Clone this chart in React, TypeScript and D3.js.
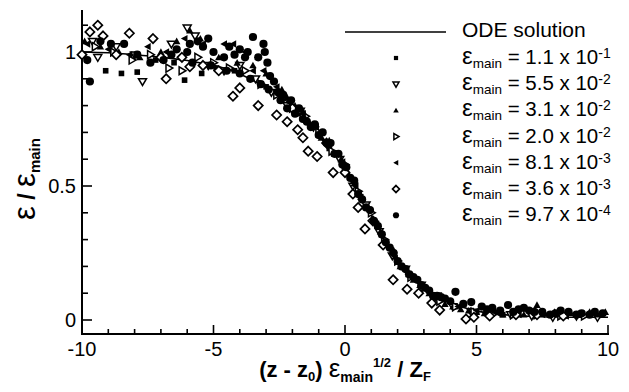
import React from "react";
import * as d3 from "d3";

// ODE solution curve
const odeX = [-10, -9, -8, -7, -6, -5, -4, -3, -2.5, -2, -1.5, -1, -0.5, 0, 0.5, 1, 1.5, 2, 2.5, 3, 3.5, 4, 5, 6, 7, 8, 9, 10];
const odeY = [1.0, 0.997, 0.99, 0.981, 0.968, 0.95, 0.918, 0.866, 0.835, 0.8, 0.755, 0.7, 0.635, 0.565, 0.478, 0.39, 0.305, 0.228, 0.168, 0.122, 0.088, 0.064, 0.034, 0.02, 0.014, 0.011, 0.01, 0.01];

// Series (x, y)
const seriesSquare: [number, number][] = [
  [-10, 0.99], [-9.1, 0.93], [-8.5, 0.92], [-7.9, 0.925], [-7.2, 0.97], [-6.5, 0.96], [-6.1, 0.895], [-5.45, 0.92],
  [-4.9, 0.94], [-4.2, 0.93], [-3.6, 0.9], [-3.0, 0.87], [-2.4, 0.82], [-1.8, 0.77], [-1.2, 0.72], [-0.6, 0.64],
  [0, 0.56], [0.6, 0.46], [1.2, 0.36], [1.8, 0.25], [2.4, 0.17], [3.0, 0.12], [3.6, 0.08], [4.2, 0.05],
  [4.8, 0.035], [5.4, 0.025], [6.0, 0.02], [6.6, 0.02], [7.2, 0.015], [7.8, 0.02], [8.4, 0.015], [9.0, 0.02], [9.6, 0.015],
];
const seriesTriDown: [number, number][] = [
  [-9.6, 1.04], [-9.4, 0.98], [-8.7, 1.02], [-8.0, 0.99], [-7.7, 0.89], [-6.6, 1.03], [-6.0, 1.09], [-5.7, 1.06],
  [-5.2, 0.95], [-4.6, 0.93], [-4.0, 0.95], [-3.4, 0.9], [-2.8, 0.85], [-2.2, 0.8], [-1.7, 0.78], [-1.2, 0.72],
  [-0.7, 0.66], [-0.2, 0.6], [0.3, 0.5], [0.8, 0.43], [1.3, 0.33], [1.8, 0.24], [2.3, 0.19], [2.9, 0.13],
  [3.5, 0.09], [4.1, 0.05], [4.8, 0.03], [5.5, 0.02], [6.3, 0.02], [7.1, 0.015], [7.9, 0.01], [8.8, 0.015], [9.6, 0.01],
];
const seriesTriUp: [number, number][] = [
  [-9.9, 1.04], [-9.3, 1.02], [-8.6, 1.0], [-7.8, 0.98], [-7.0, 1.0], [-6.4, 1.04], [-5.9, 1.08], [-5.5, 1.05],
  [-4.8, 0.98], [-4.1, 0.96], [-3.5, 0.95], [-3.0, 0.92], [-2.4, 0.86], [-1.9, 0.8], [-1.4, 0.74], [-0.9, 0.68],
  [-0.4, 0.62], [0.1, 0.55], [0.6, 0.46], [1.1, 0.37], [1.6, 0.28], [2.1, 0.2], [2.6, 0.15], [3.2, 0.1],
  [3.8, 0.06], [4.4, 0.04], [5.0, 0.03], [5.7, 0.035], [6.4, 0.03], [7.3, 0.056], [7.97, 0.03], [8.55, 0.026], [9.3, 0.03], [9.9, 0.03],
  [-2.2, 0.83], [-1.6, 0.78], [-1.1, 0.73], [-0.6, 0.67], [-0.15, 0.6], [0.35, 0.51], [0.85, 0.42], [1.35, 0.33],
  [1.85, 0.26], [2.35, 0.19], [2.85, 0.13], [3.45, 0.08], [4.1, 0.05], [4.7, 0.035], [5.3, 0.025], [6.0, 0.02],
  [6.8, 0.02], [7.6, 0.025], [8.2, 0.02], [8.9, 0.025], [9.6, 0.02],
];
const seriesTriRight: [number, number][] = [
  [-9.5, 1.02], [-8.8, 1.0], [-8.1, 0.97], [-7.4, 0.99], [-6.7, 0.94], [-6.2, 0.93], [-5.6, 0.98], [-5.0, 0.96],
  [-4.4, 0.94], [-3.8, 0.93], [-3.2, 0.88], [-2.6, 0.84], [-2.0, 0.79], [-1.5, 0.76], [-1.0, 0.7], [-0.5, 0.63],
  [0.0, 0.58], [0.5, 0.48], [1.0, 0.4], [1.5, 0.3], [2.0, 0.22], [2.5, 0.16], [3.0, 0.12], [3.6, 0.07],
  [4.2, 0.05], [4.9, 0.03], [5.6, 0.02], [6.4, 0.02], [7.3, 0.02], [8.2, 0.015], [9.1, 0.015],
];
const seriesTriLeft: [number, number][] = [
  [-9.8, 1.03], [-9.0, 1.01], [-8.2, 0.99], [-7.5, 1.02], [-6.8, 1.0], [-6.1, 1.05], [-5.4, 1.03], [-4.6, 1.03],
  [-4.25, 1.03], [-3.8, 1.0], [-3.5, 0.93], [-3.1, 0.93], [-2.6, 0.87], [-2.1, 0.81], [-1.6, 0.77], [-1.1, 0.72],
  [-0.6, 0.65], [-0.1, 0.59], [0.4, 0.5], [0.9, 0.41], [1.4, 0.31], [1.9, 0.23], [2.4, 0.17], [3.0, 0.12],
  [3.6, 0.08], [4.3, 0.05], [5.0, 0.035], [5.8, 0.025], [6.6, 0.02], [7.5, 0.02], [8.4, 0.015], [9.3, 0.02],
];
const seriesDiamond: [number, number][] = [
  [-10, 0.99], [-9.7, 1.075], [-9.4, 1.1], [-9.2, 1.06], [-8.7, 0.99], [-8.2, 1.07], [-7.3, 1.05], [-7.0, 0.98],
  [-6.8, 0.9], [-6.2, 0.98], [-5.9, 0.945], [-5.4, 0.95], [-4.8, 0.93], [-4.26, 0.835], [-4.0, 0.866], [-3.3, 0.8],
  [-2.6, 0.765], [-2.2, 0.74], [-2.0, 0.79], [-1.8, 0.71], [-1.6, 0.68], [-1.4, 0.63], [-1.06, 0.61], [-0.7, 0.66],
  [-0.45, 0.55], [0.0, 0.55], [0.3, 0.47], [0.5, 0.42], [0.76, 0.34], [1.06, 0.37], [1.45, 0.28], [1.83, 0.15],
  [2.36, 0.115], [2.8, 0.1], [3.3, 0.063], [3.6, 0.037], [4.6, 0.004], [4.9, 0.01], [5.5, 0.015], [6.5, 0.02], [7.3, 0.02], [8.3, 0.015],
];
const seriesCircle: [number, number][] = [
  [-9.8, 0.97], [-9.7, 0.89], [-9.3, 1.04], [-8.9, 1.03], [-8.4, 1.03], [-7.9, 0.99], [-7.4, 0.96], [-6.9, 0.97],
  [-6.4, 1.01], [-5.9, 1.03], [-5.4, 1.02], [-5.0, 1.0], [-4.6, 0.98], [-4.2, 0.99], [-3.8, 0.98], [-3.5, 1.056],
  [-3.1, 1.03], [-3.05, 1.0], [-2.95, 0.96], [-2.85, 0.91], [-2.7, 0.89], [-2.55, 0.85], [-2.45, 0.82], [-2.2, 0.79],
  [-1.9, 0.77], [-1.6, 0.75], [-1.3, 0.72], [-1.0, 0.69], [-0.7, 0.66], [-0.4, 0.62], [-0.1, 0.58], [0.2, 0.53],
  [0.5, 0.47], [0.8, 0.42], [1.1, 0.37], [1.4, 0.32], [1.7, 0.27], [2.0, 0.22], [2.3, 0.19], [2.6, 0.16],
  [2.9, 0.13], [3.2, 0.11], [3.5, 0.09], [3.8, 0.08], [4.2, 0.105], [4.5, 0.06], [4.8, 0.067], [5.2, 0.05],
  [5.6, 0.045], [6.2, 0.056], [6.6, 0.04], [7.0, 0.035], [7.5, 0.03], [8.0, 0.025], [8.5, 0.03], [9.0, 0.025], [9.5, 0.03],
  [-6.6, 0.99], [-6.0, 1.0], [-5.6, 1.04], [-5.2, 1.05], [-4.4, 1.02], [-4.0, 1.01], [-3.7, 1.0], [-3.3, 0.98],
  [-5.8, 0.96], [-5.1, 0.95], [-4.5, 0.93], [-4.0, 0.92], [-3.6, 0.9], [-3.2, 0.88], [-2.9, 0.86],
  [-2.35, 0.84], [-2.05, 0.82], [-1.75, 0.79], [-1.45, 0.74], [-1.15, 0.73], [-0.85, 0.7], [-0.55, 0.66], [-0.25, 0.62],
  [0.05, 0.57], [0.35, 0.52], [0.65, 0.45], [0.95, 0.41], [1.25, 0.35], [1.55, 0.29], [1.85, 0.25], [2.15, 0.2],
  [2.45, 0.17], [2.75, 0.15], [3.05, 0.12], [3.35, 0.09], [3.65, 0.085], [4.0, 0.07], [5.4, 0.04], [5.9, 0.035],
  [6.4, 0.03], [6.8, 0.045], [7.2, 0.03], [7.8, 0.02], [8.2, 0.035], [8.8, 0.02], [9.3, 0.02], [9.8, 0.025],
];

const legendMantissa = ["1.1", "5.5", "3.1", "2.0", "8.1", "3.6", "9.7"];
const legendExponent = ["-1", "-2", "-2", "-2", "-3", "-3", "-4"];
const markerKinds = ["square", "triDown", "triUp", "triRight", "triLeft", "diamond", "circle"];
const allSeries = [seriesSquare, seriesTriDown, seriesTriUp, seriesTriRight, seriesTriLeft, seriesDiamond, seriesCircle];

const xMajor = [-10, -5, 0, 5, 10];
const yMajor = [0, 0.5, 1];

const FONT = "'Liberation Sans', Arial, Helvetica, sans-serif";

function Marker({ kind, cx, cy, s = 1 }: { kind: string; cx: number; cy: number; s?: number }) {
  switch (kind) {
    case "square":
      return <rect x={cx - 2.8 * s} y={cy - 2.8 * s} width={5.6 * s} height={5.6 * s} fill="#000" />;
    case "triDown": {
      const r = 4 * s;
      return <path d={`M${cx - r},${cy - r * 0.7}L${cx + r},${cy - r * 0.7}L${cx},${cy + r}Z`} fill="#fff" stroke="#000" strokeWidth={1.5} />;
    }
    case "triUp": {
      const r = 3.7 * s;
      return <path d={`M${cx - r},${cy + r * 0.8}L${cx + r},${cy + r * 0.8}L${cx},${cy - r}Z`} fill="#000" />;
    }
    case "triRight": {
      const r = 4 * s;
      return <path d={`M${cx - r * 0.7},${cy - r}L${cx - r * 0.7},${cy + r}L${cx + r},${cy}Z`} fill="#fff" stroke="#000" strokeWidth={1.5} />;
    }
    case "triLeft": {
      const r = 3.7 * s;
      return <path d={`M${cx + r * 0.8},${cy - r}L${cx + r * 0.8},${cy + r}L${cx - r},${cy}Z`} fill="#000" />;
    }
    case "diamond": {
      const r = 4.6 * s;
      return <path d={`M${cx},${cy - r}L${cx + r},${cy}L${cx},${cy + r}L${cx - r},${cy}Z`} fill="#fff" stroke="#000" strokeWidth={1.7} />;
    }
    default:
      return <circle cx={cx} cy={cy} r={4.1 * s} fill="#000" />;
  }
}

export default function App() {
  const W = 629, H = 392;
  const x = d3.scaleLinear().domain([-10, 10]).range([82, 608]);
  const y = d3.scaleLinear().domain([0, 1]).range([320, 52]);
  const axisY = 334;
  const axisTop = 10;

  const line = d3
    .line<number>()
    .x((_, i) => x(odeX[i]))
    .y((d) => y(d))
    .curve(d3.curveMonotoneX);

  const xMinor = d3.range(-10, 10.01, 1);
  const yMinor = d3.range(0, 1.11, 0.1);

  const legendX = 462;
  const legendMarkerX = 396;
  const rowBase = (i: number) => 64 + i * 26.2;

  return (
    <svg width={W} height={H} style={{ position: "absolute", left: 0, top: 0, background: "#fff" }} fontFamily={FONT}>
      <rect width={W} height={H} fill="#fff" />
      {/* axes */}
      <line x1={82} x2={82} y1={axisTop} y2={axisY} stroke="#000" strokeWidth={2} />
      <line x1={81} x2={609} y1={axisY} y2={axisY} stroke="#000" strokeWidth={2} />
      {xMinor.map((v) => {
        const major = xMajor.includes(Math.round(v));
        return <line key={"xt" + v} x1={x(v)} x2={x(v)} y1={axisY} y2={axisY - (major ? 9 : 5)} stroke="#000" strokeWidth={1.6} />;
      })}
      {yMinor.map((v) => {
        const major = yMajor.some((m) => Math.abs(m - v) < 1e-6);
        return <line key={"yt" + v} x1={82} x2={82 + (major ? 10 : 6)} y1={y(v)} y2={y(v)} stroke="#000" strokeWidth={1.6} />;
      })}
      {xMajor.map((v) => (
        <text key={"xl" + v} x={x(v)} y={356} textAnchor="middle" fontSize={20}>
          {v}
        </text>
      ))}
      {yMajor.map((v) => (
        <text key={"yl" + v} x={76} y={y(v) + 7} textAnchor="end" fontSize={20}>
          {v}
        </text>
      ))}

      {/* ODE line */}
      <path d={line(odeY) || ""} fill="none" stroke="#000" strokeWidth={1.6} />

      {/* data */}
      {allSeries.map((ser, si) => (
        <g key={"s" + si}>
          {ser.map(([vx, vy], i) => (
            <Marker key={i} kind={markerKinds[si]} cx={x(vx)} cy={y(vy)} />
          ))}
        </g>
      ))}

      {/* legend */}
      <line x1={345} x2={446} y1={32} y2={32} stroke="#000" strokeWidth={1.6} />
      <text x={legendX} y={37} fontSize={21}>ODE solution</text>
      {legendMantissa.map((m, i) => (
        <g key={"lg" + i}>
          <Marker kind={markerKinds[i]} cx={legendMarkerX} cy={rowBase(i) - 6} s={0.75} />
          <text x={legendX} y={rowBase(i)} fontSize={20.5}>
            <tspan fontSize={24}>ε</tspan>
            <tspan fontSize={13.5} dy={4}>main</tspan>
            <tspan dy={-4}>{` = ${m} x 10`}</tspan>
            <tspan fontSize={14} dy={-6}>{legendExponent[i]}</tspan>
          </text>
        </g>
      ))}

      {/* x title */}
      <text x={345} y={377} textAnchor="middle" fontSize={22} fontWeight="bold">
        <tspan>(z - z</tspan>
        <tspan fontSize={13} dy={4}>0</tspan>
        <tspan dy={-4}>) </tspan>
        <tspan fontSize={26} fontWeight="normal">ε</tspan>
        <tspan fontSize={14} dy={5}>main</tspan>
        <tspan fontSize={13} dy={-15}>1/2</tspan>
        <tspan dy={10}> / Z</tspan>
        <tspan fontSize={13} dy={4}>F</tspan>
      </text>

      {/* y title */}
      <text transform="translate(35,179) rotate(-90)" textAnchor="middle" fontSize={23} fontWeight="bold">
        <tspan fontSize={31} fontWeight="normal">ε</tspan>
        <tspan> / </tspan>
        <tspan fontSize={31} fontWeight="normal">ε</tspan>
        <tspan fontSize={15} dy={5}>main</tspan>
      </text>
    </svg>
  );
}
